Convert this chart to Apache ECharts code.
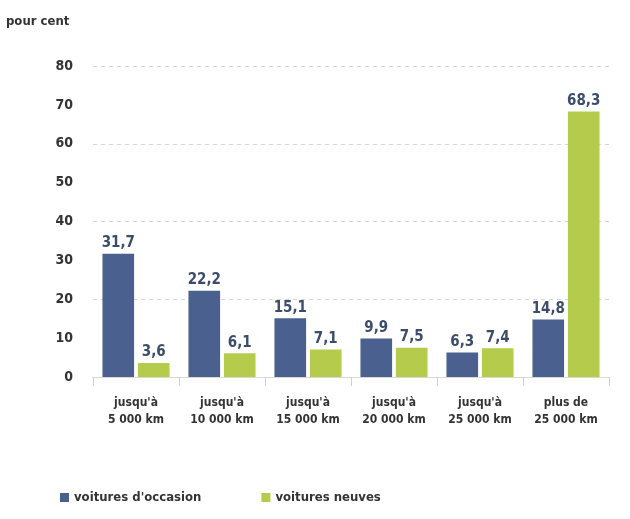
<!DOCTYPE html>
<html><head><meta charset="utf-8">
<script src="https://cdn.jsdelivr.net/npm/echarts@6/dist/echarts.min.js"></script>
<style>html,body{margin:0;padding:0;background:#fff}#c{width:630px;height:519px}</style>
</head><body><div id="c"></div>
<script>
const categories = ["jusqu'à\n5 000 km","jusqu'à\n10 000 km","jusqu'à\n15 000 km","jusqu'à\n20 000 km","jusqu'à\n25 000 km","plus de\n25 000 km"];
const occasion = [31.7, 22.2, 15.1, 9.9, 6.3, 14.8];
const neuves = [3.6, 6.1, 7.1, 7.5, 7.4, 68.3];
const seriesNames = ["voitures d'occasion", "voitures neuves"];
const yTicks = [0, 10, 20, 30, 40, 50, 60, 70, 80];

const FONT = "'Liberation Sans Narrow','DejaVu Sans Condensed',sans-serif";
const chart = echarts.init(document.getElementById('c'), null, {renderer:'canvas'});
const lbl = {show:true, position:'top', distance:3, color:'#3c4d6b', fontWeight:'bold', fontSize:15, fontFamily:FONT,
  formatter: p => String(p.value).replace('.', ',')};
chart.setOption({
  animation:false,
  backgroundColor:'#fff',
  graphic:[{type:'text', left:6, top:15, style:{text:'pour cent', fill:'#333', font:'bold 13px '+FONT}}],
  legend:{bottom:10, left:55, itemWidth:9, itemHeight:9, itemGap:60, icon:'rect',
    textStyle:{color:'#333', fontWeight:'bold', fontSize:13, fontFamily:FONT}, data:seriesNames},
  grid:{left:93, right:21, top:66, bottom:142},
  xAxis:{type:'category', data:categories,
    axisLine:{lineStyle:{color:'#d8d8d8', width:1}},
    axisTick:{show:true, length:9, lineStyle:{color:'#cfcfcf'}},
    axisLabel:{color:'#333', fontWeight:'bold', fontSize:12, fontFamily:FONT, lineHeight:17, margin:17}},
  yAxis:[{type:'value', min:0, max:80, interval:10,
    axisLabel:{color:'#333', fontWeight:'bold', fontSize:14, fontFamily:FONT, margin:20,
      formatter: v => yTicks.includes(v) ? String(v) : ''},
    axisLine:{show:false}, axisTick:{show:false}, splitLine:{show:false}},
    {type:'value', min:0, max:80, interval:20, position:'left',
    axisLabel:{show:false}, axisLine:{show:false}, axisTick:{show:false},
    splitLine:{show:true, lineStyle:{color:'#d5d5d5', type:[4,4], width:1}}}],
  series:[
    {name:seriesNames[0], type:'bar', data:occasion, itemStyle:{color:'#4a6190'}, barGap:'12%', barCategoryGap:'22%', label:lbl},
    {name:seriesNames[1], type:'bar', data:neuves, itemStyle:{color:'#b4cb4c'}, label:lbl}
  ]
});
</script></body></html>
